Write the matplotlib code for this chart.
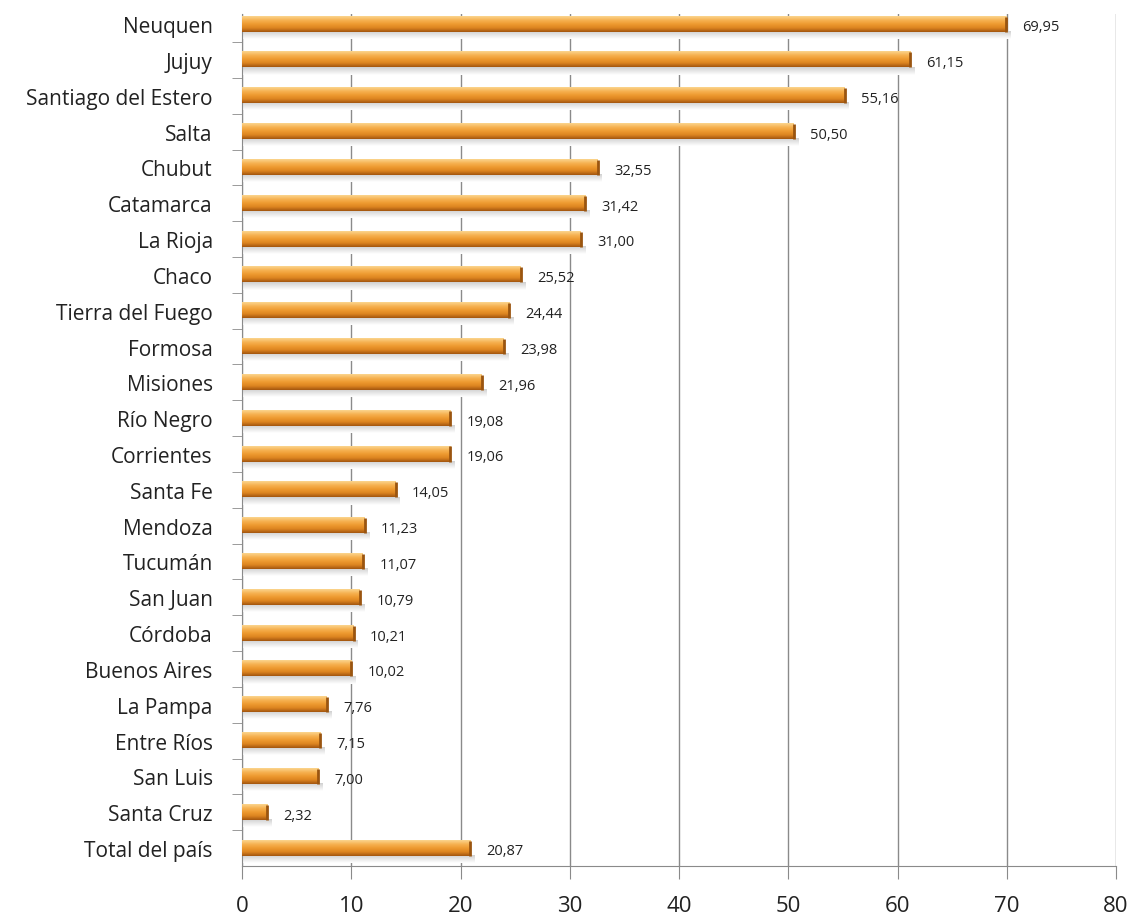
import matplotlib
matplotlib.use("Agg")
import matplotlib.pyplot as plt
from matplotlib.colors import LinearSegmentedColormap
import numpy as np

provincias = [
    "Neuquen", "Jujuy", "Santiago del Estero", "Salta", "Chubut", "Catamarca",
    "La Rioja", "Chaco", "Tierra del Fuego", "Formosa", "Misiones", "Río Negro",
    "Corrientes", "Santa Fe", "Mendoza", "Tucumán", "San Juan", "Córdoba",
    "Buenos Aires", "La Pampa", "Entre Ríos", "San Luis", "Santa Cruz",
    "Total del país",
]
valores = [
    69.95, 61.15, 55.16, 50.50, 32.55, 31.42, 31.00, 25.52, 24.44, 23.98,
    21.96, 19.08, 19.06, 14.05, 11.23, 11.07, 10.79, 10.21, 10.02, 7.76,
    7.15, 7.00, 2.32, 20.87,
]
x_ticks = [0, 10, 20, 30, 40, 50, 60, 70, 80]

GRID = "#8a8a8a"
BAR_H = 0.42

bar_cmap = LinearSegmentedColormap.from_list(
    "bar", ["#fbd58e", "#f6b252", "#ee9a30", "#dc8420", "#a3560f"])
shadow_cmap = LinearSegmentedColormap.from_list(
    "shadow", ["#d0d0d0", "#ffffff"])
grad = np.linspace(0, 1, 64).reshape(-1, 1)

fig = plt.figure(figsize=(11.33, 9.2), dpi=100)
ax = fig.add_axes([0.2136, 0.0576, 0.7714, 0.926])

y = np.arange(len(provincias))
for yi, v in zip(y, valores):
    # faint shadow under the bar
    ax.imshow(grad, cmap=shadow_cmap, aspect="auto", zorder=1.5,
              extent=[0, v + 0.4, yi + BAR_H / 2 + 0.2, yi + BAR_H / 2],
              interpolation="bilinear")
    ax.imshow(grad, cmap=bar_cmap, aspect="auto", zorder=3,
              extent=[0, v, yi + BAR_H / 2, yi - BAR_H / 2],
              interpolation="bilinear")
    ax.plot([v, v], [yi - BAR_H / 2, yi + BAR_H / 2], color="#9a5510",
            lw=2, zorder=3.5, solid_capstyle="butt")
    ax.text(v + 1.5, yi + 0.08, f"{v:.2f}".replace(".", ","),
            va="center", ha="left", fontsize=10.5, color="#222222",
            family="Open Sans", zorder=4)

ax.set_xlim(0, 80)
ax.set_ylim(len(provincias) - 0.5, -0.28)

ax.set_xticks(x_ticks)
ax.set_xticklabels([str(t) for t in x_ticks], fontsize=16, color="#222222",
                   family="Open Sans")
ax.tick_params(axis="x", length=9, color=GRID, pad=12)
ax.xaxis.grid(True, color=GRID, lw=1, zorder=1)
ax.set_axisbelow(True)

ax.set_yticks(y)
ax.set_yticklabels(provincias, fontsize=15, color="#222222", family="Open Sans")
ax.tick_params(axis="y", which="major", length=0, pad=21)
ax.set_yticks(np.arange(0.5, len(provincias) - 0.5, 1), minor=True)
ax.tick_params(axis="y", which="minor", length=7, color=GRID)

for side in ["top", "right"]:
    ax.spines[side].set_visible(False)
for side in ["left", "bottom"]:
    ax.spines[side].set_color(GRID)

fig.savefig("out.png", dpi=100)
